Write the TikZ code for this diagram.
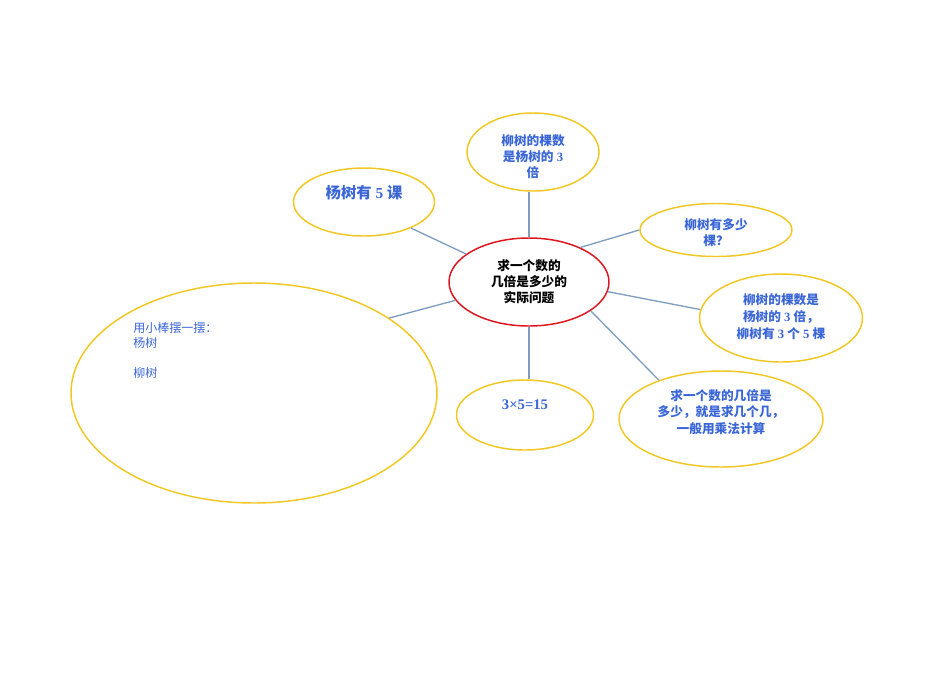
\documentclass[tikz,border=0pt]{standalone}
\usepackage{fontspec}
\setmainfont{Liberation Serif}
\newfontfamily\cjk{Noto Sans CJK SC}
\newcommand{\zh}[1]{{\cjk #1}}
\newcommand{\shiftText}[2]{\raisebox{#1}[\height][\depth]{#2}}
\usepackage{xcolor}
\definecolor{colorBubble}{HTML}{F2C623}
\definecolor{colorHub}{HTML}{E0141E}
\definecolor{colorLink}{HTML}{7F9EBF}
\definecolor{colorText}{HTML}{3A66D6}
\usetikzlibrary{shapes.geometric, positioning}
\tikzset{bubble/.style={ellipse, draw=colorBubble, line width=1.1pt, text=colorText, inner sep=0pt, align=center, font=\bfseries\fontsize{9.5}{12}\selectfont},
  hub/.style={ellipse, draw=colorHub, line width=1.1pt, inner sep=0pt, align=center, font=\bfseries\fontsize{9.5}{12}\selectfont},
  link/.style={draw=colorLink, line width=1pt}}

\begin{document}
\begin{tikzpicture}[x=0.75pt, y=-0.75pt]
\useasboundingbox (0,0) rectangle (950,672);
\node[hub, minimum width=120pt, minimum height=66pt] (hub) at (529,282) {\zh{求一个数的}\\\zh{几倍是多少的}\\\zh{实际问题}};
\node[bubble, minimum width=99pt, minimum height=58.5pt] (willowTimes) at (533,152) {\shiftText{-3.75pt}{\shortstack{\zh{柳树的棵数}\\\zh{是杨树的} 3\\\zh{倍}}}};
\node[bubble, minimum width=105.75pt, minimum height=51pt, font=\bfseries\fontsize{11.5}{14}\selectfont] (poplar) at (364,202) {\shiftText{7.3pt}{\zh{杨树有} 5 \zh{课}}};
\node[bubble, minimum width=114pt, minimum height=39.75pt] (question) at (716,230) {\shiftText{-2.25pt}{\shortstack{\zh{柳树有多少}\\\zh{棵？}}}};
\node[bubble, minimum width=122.25pt, minimum height=66pt] (willowCount) at (781,318) {\shiftText{1pt}{\shortstack{\zh{柳树的棵数是}\\\zh{杨树的} 3 \zh{倍，}\\\zh{柳树有} 3 \zh{个} 5 \zh{棵}}}};
\node[bubble, minimum width=153pt, minimum height=72pt] (rule) at (721,419) {\shiftText{5pt}{\shortstack{\zh{求一个数的几倍是}\\\zh{多少，就是求几个几，}\\\zh{一般用乘法计算}}}};
\node[bubble, minimum width=102.75pt, minimum height=52.5pt, font=\bfseries\fontsize{11}{13}\selectfont] (product) at (525,415) {\shiftText{7.7pt}{3×5=15}};
\node[bubble, minimum width=274.5pt, minimum height=165pt] (sticks) at (254,393) {};
\node[anchor=north west, text=colorText, align=left, inner sep=0pt, font=\fontsize{9}{11}\selectfont] (sticksText) at (133,322.5) {\zh{用小棒摆一摆：}\\\zh{杨树}\\[11.5pt]\zh{柳树}};
% connectors
\draw[link] (hub.north) -- (hub.north |- willowTimes.south);
\draw[link] (hub.156) -- (poplar.331);
\draw[link] (hub.34) -- (question.west);
\draw[link] (hub.-7) -- (willowCount.174);
\draw[link] (hub.-25) -- (rule.148);
\draw[link] (hub.south) -- (hub.south |- product.north);
\draw[link] (hub.194) -- (sticks.29);
\end{tikzpicture}
\end{document}
